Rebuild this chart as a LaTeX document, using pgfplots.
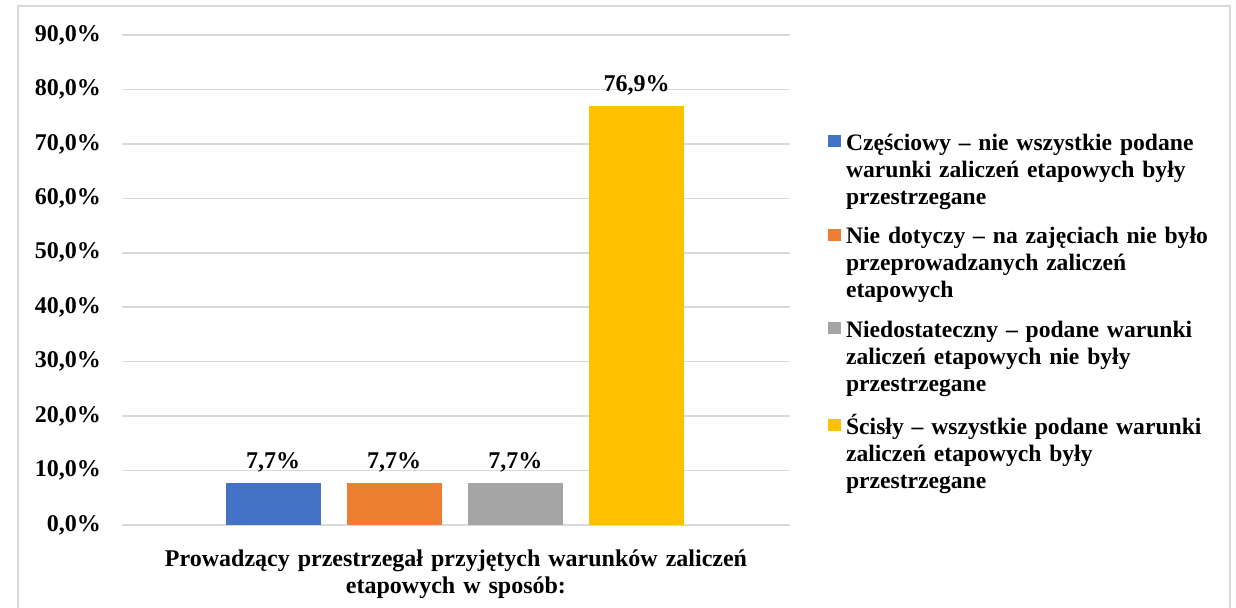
\documentclass[border=0pt]{standalone}
\usepackage{pgfplots}
\pgfplotsset{compat=1.18}
\usepackage{fontspec}
\setmainfont{Liberation Serif}
\definecolor{cBlue}{HTML}{4472C4}
\definecolor{cOrange}{HTML}{ED7D31}
\definecolor{cGray}{HTML}{A5A5A5}
\definecolor{cGold}{HTML}{FFC000}
\definecolor{cGrid}{HTML}{D9D9D9}
\begin{document}
\begin{tikzpicture}[font=\fontsize{12}{13.5}\selectfont\bfseries]
\useasboundingbox (-61pt,-41.5pt) rectangle (557pt,262.5pt);
\draw[cGrid, line width=1pt] (-52pt,-60pt) rectangle (554pt,259.5pt);
\begin{axis}[
  at={(0pt,0pt)}, anchor=south west,
  scale only axis, width=334pt, height=245pt,
  ybar, bar shift=0pt, bar width=47.5pt,
  xmin=-1.246, xmax=4.266,
  ymin=0, ymax=90,
  ytick={0,10,...,90},
  xtick=\empty,
  axis line style={draw=none},
  major tick length=0pt,
  ymajorgrids, grid style={cGrid, line width=0.75pt},
  /pgf/number format/assume math mode=true,
  yticklabel={\pgfmathprintnumber[fixed, fixed zerofill, precision=1, use comma]{\tick}\%},
  yticklabel style={font=\fontsize{12}{13.5}\selectfont\bfseries, xshift=-7pt},
  nodes near coords={\pgfmathprintnumber[fixed, fixed zerofill, precision=1, use comma]{\pgfplotspointmeta}\%},
  nodes near coords style={font=\fontsize{12}{13.5}\selectfont\bfseries, anchor=south, yshift=2pt, text=black},
  xlabel={Prowadzący przestrzegał przyjętych warunków zaliczeń\\etapowych w sposób:},
  xlabel style={at={(rel axis cs:0.5,0)}, anchor=base, yshift=-21pt, text width=320pt, align=center, font=\fontsize{12}{13.5}\selectfont\bfseries},
  legend image code/.code={\fill[#1, draw=none] (0pt,1.5pt) rectangle (6.5pt,7.5pt);},
  legend style={at={(rel axis cs:1.057,0.798)}, anchor=north west, draw=none, fill=none, inner sep=0pt, outer sep=0pt,
    row sep=37pt, column sep=2.5pt,
    nodes={text width=190pt, align=left, inner sep=0pt, font=\fontsize{11.8}{13.5}\selectfont\bfseries},
    cells={anchor=base west}},
]
\addplot[fill=cBlue, draw=none] coordinates {(0,7.7)};
\addlegendentry{Częściowy – nie wszystkie podane\\warunki zaliczeń etapowych były\\przestrzegane}
\addplot[fill=cOrange, draw=none] coordinates {(1,7.7)};
\addlegendentry{Nie dotyczy – na zajęciach nie było\\przeprowadzanych zaliczeń\\etapowych}
\addplot[fill=cGray, draw=none] coordinates {(2,7.7)};
\addlegendentry{Niedostateczny – podane warunki\\zaliczeń etapowych nie były\\przestrzegane}
\addplot[fill=cGold, draw=none] coordinates {(3,76.9)};
\addlegendentry{Ścisły – wszystkie podane warunki\\zaliczeń etapowych były\\przestrzegane}
\end{axis}
\end{tikzpicture}
\end{document}
